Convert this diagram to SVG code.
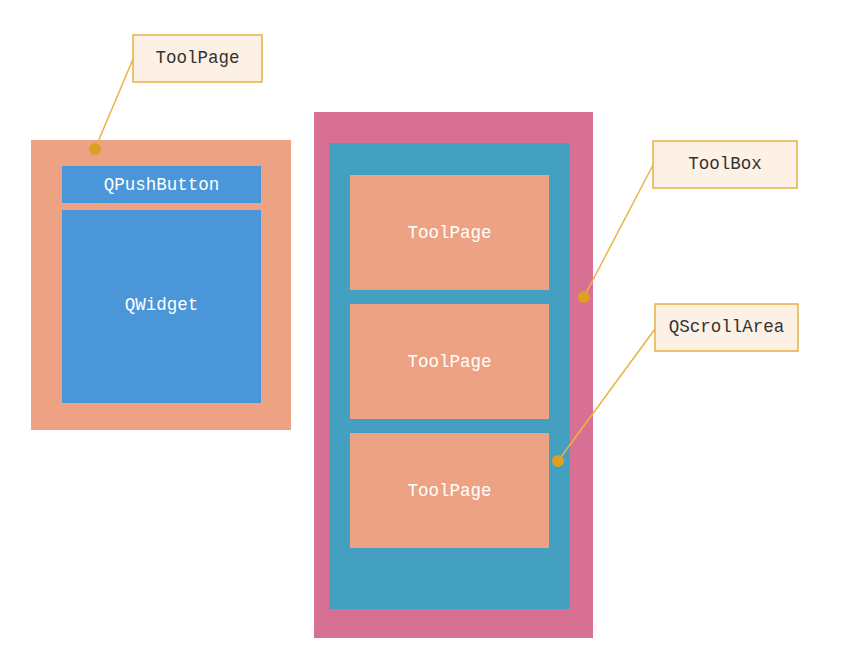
<svg xmlns="http://www.w3.org/2000/svg" width="841" height="664" viewBox="0 0 841 664">
<style>
.page{fill:#EDA283}
.btn{fill:#4A96D8}
.lbl{fill:#FDF0E4;stroke:#E9B040;stroke-width:1.5}
.t{font-family:"Liberation Mono","DejaVu Sans Mono",monospace;font-size:17.5px;text-anchor:middle;dominant-baseline:central}
.w{fill:#FFFFFF}
.d{fill:#333333}
.ln{stroke:#E8B444;stroke-width:1.5;fill:none}
.dot{fill:#DDA020}
</style>
<rect width="841" height="664" fill="#FFFFFF"/>
<g id="toolpage-left">
<rect class="page" x="31" y="140" width="260" height="290"/>
</g>
<g id="qpushbutton">
<rect class="btn" x="62" y="166" width="199" height="37"/>
<text class="t w" x="161.5" y="185">QPushButton</text>
</g>
<g id="qwidget">
<rect class="btn" x="62" y="210" width="199" height="193"/>
<text class="t w" x="161.5" y="305">QWidget</text>
</g>
<g id="toolbox">
<rect fill="#D87093" x="314" y="112" width="279" height="526"/>
</g>
<g id="qscrollarea">
<rect fill="#43A0C0" x="329" y="143" width="241" height="466"/>
</g>
<g id="toolpage1">
<rect class="page" x="350" y="175" width="199" height="115"/>
<text class="t w" x="449.5" y="233">ToolPage</text>
</g>
<g id="toolpage2">
<rect class="page" x="350" y="304" width="199" height="115"/>
<text class="t w" x="449.5" y="362">ToolPage</text>
</g>
<g id="toolpage3">
<rect class="page" x="350" y="433" width="199" height="115"/>
<text class="t w" x="449.5" y="491">ToolPage</text>
</g>
<g id="connectors">
<line class="ln" x1="133" y1="59" x2="95" y2="149"/>
<line class="ln" x1="653" y1="165" x2="584" y2="297"/>
<line class="ln" x1="655" y1="329" x2="558" y2="461"/>
<circle class="dot" cx="95" cy="149" r="6"/>
<circle class="dot" cx="584" cy="297" r="6"/>
<circle class="dot" cx="558" cy="461" r="6"/>
</g>
<g id="label-toolpage">
<rect class="lbl" x="133" y="35" width="129" height="47"/>
<text class="t d" x="197.5" y="58">ToolPage</text>
</g>
<g id="label-toolbox">
<rect class="lbl" x="653" y="141" width="144" height="47"/>
<text class="t d" x="725" y="164">ToolBox</text>
</g>
<g id="label-qscrollarea">
<rect class="lbl" x="655" y="304" width="143" height="47"/>
<text class="t d" x="726.5" y="327">QScrollArea</text>
</g>
</svg>
